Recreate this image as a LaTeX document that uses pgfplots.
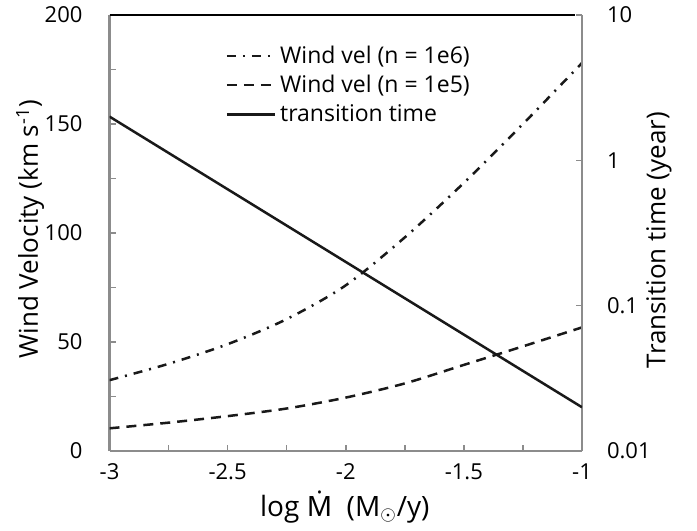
\documentclass[border=0pt]{standalone}
\usepackage{pgfplots}
\pgfplotsset{compat=1.18}
\usepackage{fontspec}
\setmainfont{Open Sans}
\newfontfamily\notosans{Noto Sans}
\definecolor{axgray}{RGB}{140,140,140}
\definecolor{ln}{RGB}{25,25,25}
\tikzset{
  dashdotline/.style={ln, line width=1.25bp, dash pattern=on 4.5bp off 3.5bp on 1bp off 3.5bp},
  dashedline/.style={ln, line width=1.25bp, dash pattern=on 5bp off 3.5bp},
  solidline/.style={ln, line width=1.25bp},
}
\pgfplotsset{
  common/.style={
    at={(0,0)}, anchor=south west, scale only axis,
    width=236.25bp, height=218bp,
    xmin=-3, xmax=-1,
    axis line style={axgray, line width=1.1bp, -},
    tick style={axgray, line width=0.8bp},
    tick align=inside,
    major tick length=3bp, minor tick length=3bp,
    /pgf/number format/assume math mode=true,
    tick label style={font=\fontsize{11bp}{13bp}\selectfont},
    label style={font=\fontsize{13bp}{15bp}\selectfont},
  }
}
\begin{document}
\begin{tikzpicture}
\useasboundingbox (-54.75bp,-40bp) rectangle (293.75bp,225.5bp);
\begin{axis}[common,
  ymin=0, ymax=200,
  axis x line*=bottom, axis y line*=left,
  xtick={-3,-2.5,-2,-1.5,-1},
  minor xtick={-2.75,-2.25,-1.75,-1.25},
  xticklabels={-3,-2.5,-2,-1.5,-1},
  ytick={0,50,100,150,200},
  minor ytick={25,75,125,175},
  yticklabel style={xshift=-10bp},
  xticklabel style={yshift=-3bp},
  xlabel={log {\notosans Ṁ}\ \ (M$_\odot$/y)},
  ylabel={Wind Velocity (km s\textsuperscript{-1})},
  xlabel style={at={(axis description cs:0.498,-0.128)}, anchor=center, font=\fontsize{14bp}{16bp}\selectfont},
  ylabel style={at={(axis description cs:-0.168,0.509)}, anchor=center},
]
\draw[black, line width=1bp] (rel axis cs:0,1) -- (rel axis cs:0.985,1);
\addplot[dashdotline, smooth] coordinates {(-3,32.5) (-2.75,40) (-2.5,49) (-2.25,60.5) (-2,76) (-1.75,98) (-1.5,123) (-1.25,150) (-1,178)};
\addplot[dashedline, smooth] coordinates {(-3,10.4) (-2.75,13) (-2.5,16) (-2.25,19.5) (-2,24.5) (-1.75,31) (-1.5,39.5) (-1.25,48) (-1,56.7)};
\end{axis}
\begin{axis}[common,
  ymode=log, ymin=0.01, ymax=10,
  axis x line=none, axis y line*=right,
  ytick={0.01,0.1,1,10},
  yticklabels={0.01,0.1,1,10},
  yminorticks=false,
  yticklabel style={xshift=9bp},
  ylabel={Transition time (year)},
  ylabel style={at={(axis description cs:1.163,0.484)}, anchor=center},
  legend style={at={(axis description cs:0.245,0.94)}, anchor=north west, draw=none, fill=none,
    font=\fontsize{11.5bp}{13bp}\selectfont, row sep=0.5bp, inner sep=0pt,
    /tikz/every even column/.append style={column sep=2bp}},
  legend cell align=left,
  legend image code/.code={\draw[#1] (0bp,0bp) -- (24bp,0bp);},
]
\addlegendimage{dashdotline}
\addlegendentry{Wind vel (n = 1e6)}
\addlegendimage{dashedline}
\addlegendentry{Wind vel (n = 1e5)}
\addplot[solidline] coordinates {(-3,2) (-1,0.02)};
\addlegendentry{transition time}
\end{axis}
\end{tikzpicture}
\end{document}
